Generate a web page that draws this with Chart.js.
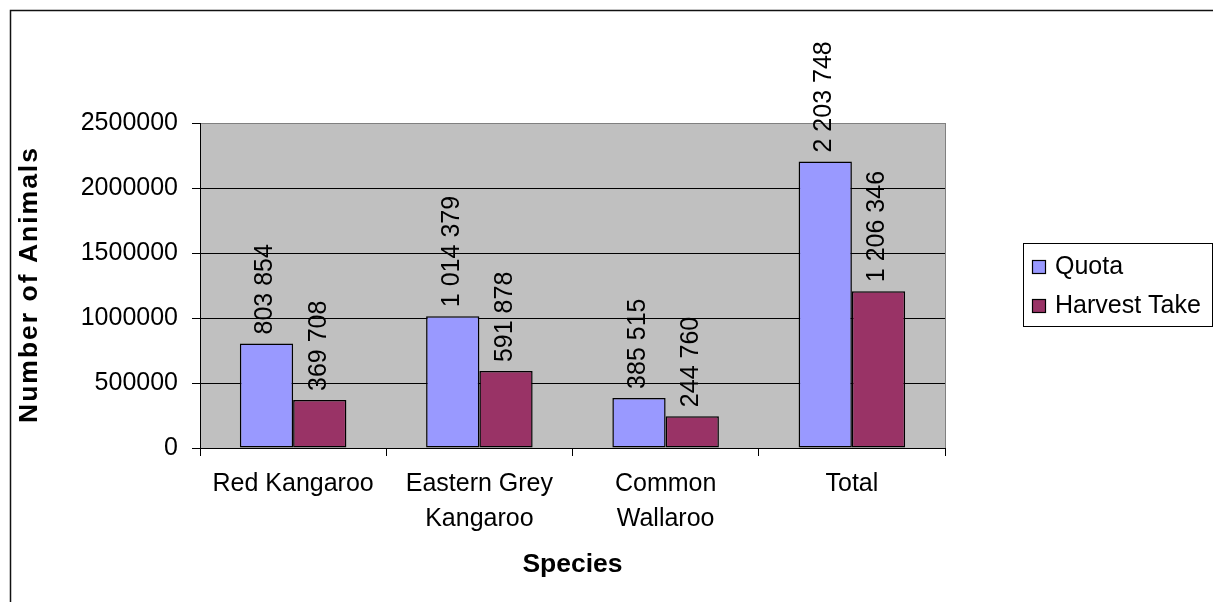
<!DOCTYPE html>
<html>
<head>
<meta charset="utf-8">
<script src="https://cdn.jsdelivr.net/npm/chart.js@4/dist/chart.umd.min.js"></script>
<style>
  html, body { margin: 0; padding: 0; background: #fff; }
  canvas { display: block; }
</style>
</head>
<body>
<canvas id="chart" width="1213" height="602"></canvas>
<script>
// Kangaroo harvest: quota versus actual take, by species
const categories = [['Red Kangaroo'], ['Eastern Grey', 'Kangaroo'], ['Common', 'Wallaroo'], ['Total']];
const quotaValues = [803854, 1014379, 385515, 2203748];
const harvestValues = [369708, 591878, 244760, 1206346];
const seriesLabels = ['Quota', 'Harvest Take'];
const yAxisMin = 0;
const yAxisMax = 2500000;
const yAxisStep = 500000;
const yAxisTitle = 'Number of Animals';
const xAxisTitle = 'Species';

const FONT = '"Liberation Sans", Arial, sans-serif';
const FS = 25;
const TITLE_FS = 26.5;
const seriesColors = ['#9999FF', '#993366'];

// "2203748" -> "2 203 748"
function spaced(n) {
  return String(n).replace(/\B(?=(\d{3})+(?!\d))/g, ' ');
}

// Grey plot-area fill, drawn before the grid
const plotFill = {
  id: 'plotFill',
  beforeDraw(chart) {
    const { ctx, chartArea: a } = chart;
    ctx.save();
    ctx.fillStyle = '#C0C0C0';
    ctx.fillRect(a.left, a.top, a.right - a.left, a.bottom - a.top);
    ctx.restore();
  }
};

// Vertical value labels above each bar
const valueLabels = {
  id: 'valueLabels',
  afterDatasetsDraw(chart) {
    const ctx = chart.ctx;
    ctx.save();
    ctx.font = FS + 'px ' + FONT;
    ctx.fillStyle = '#000';
    ctx.textAlign = 'left';
    ctx.textBaseline = 'middle';
    chart.data.datasets.forEach((ds, i) => {
      chart.getDatasetMeta(i).data.forEach((bar, j) => {
        ctx.save();
        ctx.translate(bar.x - 1, bar.y - 9);
        ctx.rotate(-Math.PI / 2);
        ctx.fillText(spaced(ds.data[j]), 0, 0);
        ctx.restore();
      });
    });
    ctx.restore();
  }
};

// Spaced-out vertical title for the value axis, centred on the y scale
const yTitle = {
  id: 'yTitle',
  afterDraw(chart) {
    const { ctx } = chart;
    const y = chart.scales.y;
    ctx.save();
    ctx.font = 'bold ' + TITLE_FS + 'px ' + FONT;
    ctx.fillStyle = '#000';
    ctx.textAlign = 'center';
    ctx.textBaseline = 'middle';
    if ('letterSpacing' in ctx) ctx.letterSpacing = '2px';
    ctx.translate(30, (y.top + y.bottom) / 2);
    ctx.rotate(-Math.PI / 2);
    ctx.fillText(yAxisTitle, 1, 0);
    ctx.restore();
  }
};

// Frame, plot border and boxed legend
const frameAndLegend = {
  id: 'frameAndLegend',
  afterDraw(chart) {
    const { ctx, chartArea: a } = chart;
    ctx.save();
    // right edge of plot area
    ctx.strokeStyle = '#808080';
    ctx.lineWidth = 1;
    ctx.beginPath();
    ctx.moveTo(Math.round(a.right) + 0.5, a.top);
    ctx.lineTo(Math.round(a.right) + 0.5, a.bottom);
    ctx.stroke();

    // outer chart frame
    ctx.strokeStyle = '#111';
    ctx.lineWidth = 1.5;
    ctx.beginPath();
    ctx.moveTo(10.5, 602);
    ctx.lineTo(10.5, 10.5);
    ctx.lineTo(1213, 10.5);
    ctx.stroke();

    // legend box
    ctx.strokeStyle = '#000';
    ctx.lineWidth = 1;
    ctx.strokeRect(1023.5, 243.5, 189, 83);
    ctx.font = FS + 'px ' + FONT;
    ctx.textAlign = 'left';
    ctx.textBaseline = 'middle';
    const rowY = [267, 306];
    chart.data.datasets.forEach((ds, i) => {
      const cy = rowY[i];
      ctx.fillStyle = ds.backgroundColor;
      ctx.fillRect(1032, cy - 7, 14, 14);
      ctx.strokeStyle = '#000';
      ctx.lineWidth = 1.2;
      ctx.strokeRect(1032.5, cy - 6.5, 13, 13);
      ctx.fillStyle = '#000';
      ctx.fillText(ds.label, 1055, cy);
    });
    ctx.restore();
  }
};

new Chart(document.getElementById('chart'), {
  type: 'bar',
  data: {
    labels: categories,
    datasets: [
      {
        label: seriesLabels[0],
        data: quotaValues,
        backgroundColor: seriesColors[0],
        borderColor: '#000',
        borderWidth: 1.5,
        borderSkipped: false
      },
      {
        label: seriesLabels[1],
        data: harvestValues,
        backgroundColor: seriesColors[1],
        borderColor: '#000',
        borderWidth: 1.5,
        borderSkipped: false
      }
    ]
  },
  options: {
    responsive: false,
    animation: false,
    devicePixelRatio: 1,
    layout: { padding: { left: 0, top: 123, right: 268, bottom: 0 } },
    datasets: {
      bar: { categoryPercentage: 0.572, barPercentage: 1 }
    },
    plugins: {
      legend: { display: false },
      tooltip: { enabled: false }
    },
    scales: {
      x: {
        offset: true,
        grid: {
          offset: true,
          drawOnChartArea: false,
          drawTicks: true,
          tickLength: 8,
          color: '#000',
          tickColor: '#000'
        },
        border: { color: '#000', width: 1 },
        ticks: {
          color: '#000',
          font: { family: FONT, size: FS, lineHeight: 1.4 },
          padding: 10.5,
          maxRotation: 0,
          autoSkip: false
        },
        title: {
          display: true,
          text: xAxisTitle,
          color: '#000',
          font: { family: FONT, size: TITLE_FS, weight: 'bold', lineHeight: 1.2 },
          padding: { top: 0, bottom: 21 }
        },
        afterFit(scale) { scale.height = 154; }
      },
      y: {
        min: yAxisMin,
        max: yAxisMax,
        grid: {
          color: (c) => (c.tick && c.tick.value === yAxisMax ? '#808080' : '#000'),
          tickColor: '#000',
          tickLength: 8,
          lineWidth: 1
        },
        border: { color: '#000', width: 1 },
        ticks: {
          stepSize: yAxisStep,
          color: '#000',
          padding: 14,
          font: { family: FONT, size: FS },
          callback: (v) => String(v)
        },
        title: { display: false },
        afterFit(scale) { scale.width = 200; }
      }
    }
  },
  plugins: [plotFill, valueLabels, yTitle, frameAndLegend]
});
</script>
</body>
</html>
